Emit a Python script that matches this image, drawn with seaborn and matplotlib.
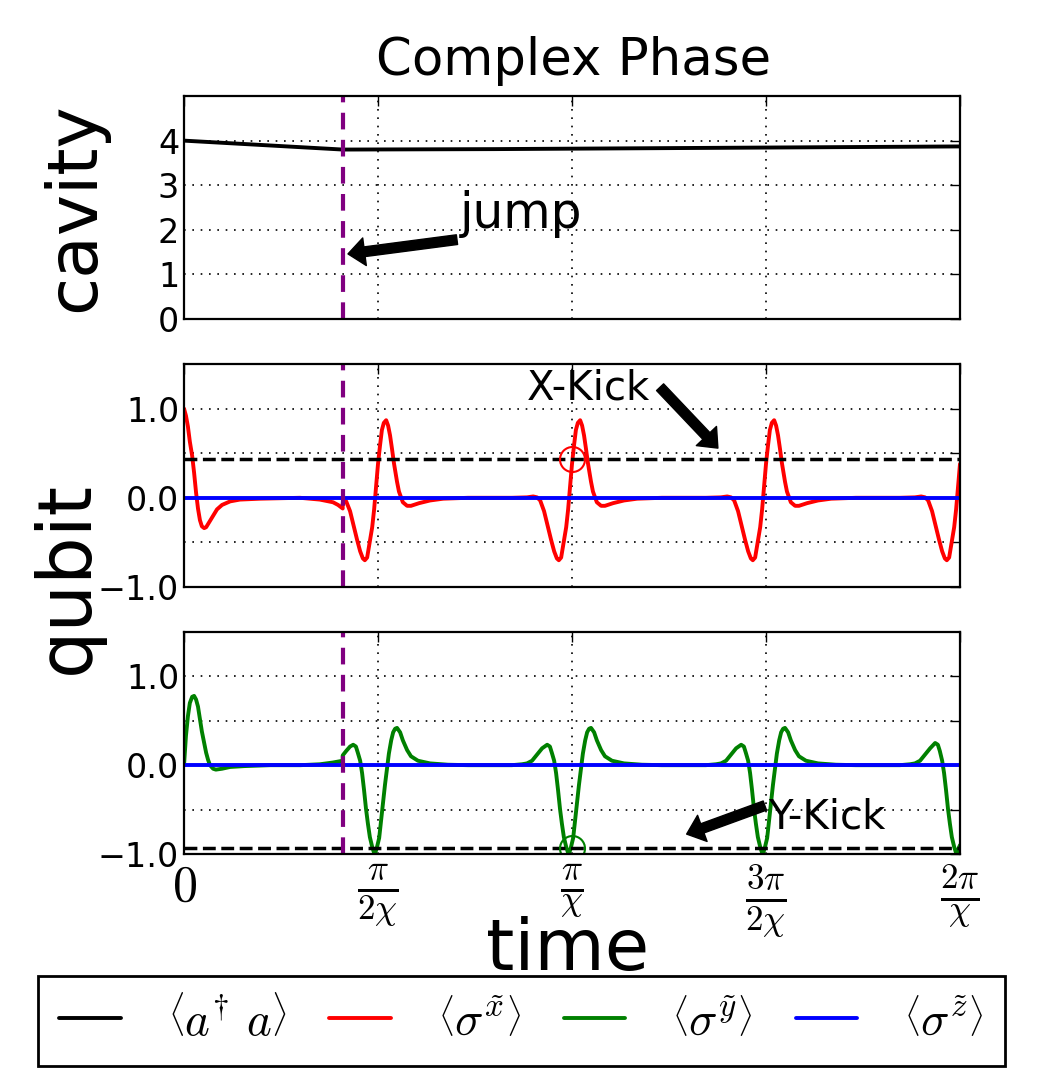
import matplotlib
matplotlib.use("Agg")
import matplotlib.pyplot as plt
from matplotlib.lines import Line2D
import seaborn as sns

# --- DATA (time in units of pi/chi, 0 .. 2) ---
t_jump = 0.409
x_kick_level = 0.43
y_kick_level = -0.93

cav_t = [0.0, 0.409, 0.8, 1.2, 1.6, 2.0]
cav_n = [4.0, 3.80, 3.81, 3.83, 3.85, 3.87]

# <sigma x>
sx_t = [0.0, 0.005, 0.010, 0.015, 0.021, 0.026, 0.031, 0.036, 0.041, 0.046, 0.052, 0.057, 0.064, 0.075, 0.085, 0.098, 0.119, 0.144, 0.196, 0.299,
        0.350, 0.384, 0.397, 0.409,
        0.409, 0.418, 0.428, 0.438, 0.446, 0.454, 0.461, 0.466, 0.472, 0.479, 0.485, 0.490, 0.495, 0.500, 0.505, 0.510, 0.515, 0.521, 0.526, 0.531, 0.536, 0.541, 0.549, 0.554, 0.564, 0.575, 0.585, 0.606, 0.634, 0.668, 0.732,
        0.845, 0.884, 0.900, 0.910, 0.918, 0.928, 0.938, 0.946, 0.954, 0.961, 0.966, 0.972, 0.979, 0.985, 0.990, 0.995, 1.000, 1.005, 1.010, 1.015, 1.021, 1.026, 1.031, 1.036, 1.041, 1.049, 1.054, 1.064, 1.075, 1.085, 1.106, 1.134, 1.168, 1.232,
        1.345, 1.384, 1.400, 1.410, 1.418, 1.428, 1.438, 1.446, 1.454, 1.461, 1.466, 1.472, 1.479, 1.485, 1.490, 1.495, 1.500, 1.505, 1.510, 1.515, 1.521, 1.526, 1.531, 1.536, 1.541, 1.549, 1.554, 1.564, 1.575, 1.585, 1.606, 1.634, 1.668, 1.732,
        1.845, 1.884, 1.900, 1.910, 1.918, 1.928, 1.938, 1.946, 1.954, 1.961, 1.966, 1.972, 1.979, 1.985, 1.990, 1.995, 2.000]
sx_v = [1.0, 0.92, 0.80, 0.63, 0.47, 0.28, 0.06, -0.12, -0.25, -0.32, -0.34, -0.33, -0.28, -0.20, -0.13, -0.08, -0.04, -0.02, -0.01, 0.0,
        -0.02, -0.05, -0.08, -0.12,
        -0.06, -0.04, -0.15, -0.33, -0.47, -0.60, -0.68, -0.70, -0.67, -0.49, -0.33, -0.13, 0.12, 0.38, 0.58, 0.76, 0.84, 0.87, 0.81, 0.70, 0.55, 0.39, 0.18, 0.07, -0.05, -0.09, -0.09, -0.06, -0.03, -0.01, 0.0,
        0.0, 0.005, 0.015, 0.005, -0.03, -0.15, -0.33, -0.47, -0.60, -0.68, -0.70, -0.67, -0.49, -0.33, -0.13, 0.12, 0.38, 0.58, 0.76, 0.84, 0.87, 0.81, 0.70, 0.55, 0.39, 0.18, 0.07, -0.05, -0.09, -0.09, -0.06, -0.03, -0.01, 0.0,
        0.0, 0.005, 0.015, 0.005, -0.03, -0.15, -0.33, -0.47, -0.60, -0.68, -0.70, -0.67, -0.49, -0.33, -0.13, 0.12, 0.38, 0.58, 0.76, 0.84, 0.87, 0.81, 0.70, 0.55, 0.39, 0.18, 0.07, -0.05, -0.09, -0.09, -0.06, -0.03, -0.01, 0.0,
        0.0, 0.005, 0.015, 0.005, -0.03, -0.15, -0.33, -0.47, -0.60, -0.68, -0.70, -0.67, -0.49, -0.33, -0.13, 0.12, 0.38]

# <sigma y>
sy_t = [0.0, 0.005, 0.010, 0.015, 0.021, 0.026, 0.031, 0.036, 0.041, 0.046, 0.052, 0.057, 0.062, 0.067, 0.075, 0.082, 0.098, 0.119, 0.157, 0.222,
        0.300, 0.350, 0.384, 0.409,
        0.409, 0.418, 0.428, 0.436, 0.443, 0.448, 0.454, 0.459, 0.464, 0.469, 0.474, 0.479, 0.485, 0.490, 0.492, 0.497, 0.503, 0.508, 0.513, 0.518, 0.523, 0.528, 0.534, 0.539, 0.544, 0.549, 0.557, 0.564, 0.575, 0.585, 0.603, 0.634, 0.680, 0.732,
        0.845, 0.871, 0.884, 0.897, 0.910, 0.923, 0.936, 0.943, 0.948, 0.954, 0.959, 0.964, 0.969, 0.974, 0.979, 0.985, 0.990, 0.992, 0.997, 1.003, 1.008, 1.013, 1.018, 1.023, 1.028, 1.034, 1.039, 1.044, 1.049, 1.057, 1.064, 1.075, 1.085, 1.103, 1.134, 1.180, 1.232,
        1.345, 1.371, 1.384, 1.397, 1.410, 1.423, 1.436, 1.443, 1.448, 1.454, 1.459, 1.464, 1.469, 1.474, 1.479, 1.485, 1.490, 1.492, 1.497, 1.503, 1.508, 1.513, 1.518, 1.523, 1.528, 1.534, 1.539, 1.544, 1.549, 1.557, 1.564, 1.575, 1.585, 1.603, 1.634, 1.680, 1.732,
        1.845, 1.871, 1.884, 1.897, 1.910, 1.923, 1.936, 1.943, 1.948, 1.954, 1.959, 1.964, 1.969, 1.974, 1.979, 1.985, 1.990, 1.992, 1.997, 2.000]
sy_v = [0.0, 0.33, 0.55, 0.70, 0.77, 0.78, 0.74, 0.66, 0.52, 0.38, 0.25, 0.14, 0.06, 0.0, -0.04, -0.05, -0.04, -0.02, -0.01, 0.0,
        0.0, 0.01, 0.03, 0.05,
        0.11, 0.16, 0.21, 0.23, 0.21, 0.14, 0.05, -0.09, -0.28, -0.49, -0.66, -0.81, -0.92, -0.99, -1.0, -0.93, -0.82, -0.62, -0.43, -0.22, -0.04, 0.13, 0.28, 0.37, 0.41, 0.42, 0.37, 0.28, 0.17, 0.10, 0.05, 0.02, 0.005, 0.0,
        0.0, 0.01, 0.02, 0.05, 0.12, 0.19, 0.23, 0.21, 0.14, 0.05, -0.09, -0.28, -0.49, -0.66, -0.81, -0.92, -0.99, -1.0, -0.93, -0.82, -0.62, -0.43, -0.22, -0.04, 0.13, 0.28, 0.37, 0.41, 0.42, 0.37, 0.28, 0.17, 0.10, 0.05, 0.02, 0.005, 0.0,
        0.0, 0.01, 0.02, 0.05, 0.12, 0.19, 0.23, 0.21, 0.14, 0.05, -0.09, -0.28, -0.49, -0.66, -0.81, -0.92, -0.99, -1.0, -0.93, -0.82, -0.62, -0.43, -0.22, -0.04, 0.13, 0.28, 0.37, 0.41, 0.42, 0.37, 0.28, 0.17, 0.10, 0.05, 0.02, 0.005, 0.0,
        0.0, 0.01, 0.02, 0.05, 0.12, 0.19, 0.25, 0.23, 0.16, 0.05, -0.09, -0.28, -0.49, -0.66, -0.81, -0.92, -0.99, -1.0, -0.93, -0.90]

sz_t = [0.0, 2.0]
sz_v = [0.0, 0.0]

x_ticks = [0, 0.5, 1.0, 1.5, 2.0]
x_ticklabels = [r'$0$', r'$\frac{\pi}{2\chi}$', r'$\frac{\pi}{\chi}$', r'$\frac{3\pi}{2\chi}$', r'$\frac{2\pi}{\chi}$']
q_ticks = [-1.0, -0.5, 0.0, 0.5, 1.0]
q_ticklabels = ['\u22121.0', '', '0.0', '', '1.0']
cav_ticks = [0, 1, 2, 3, 4]

legend_labels = [r'$\left\langle a^{\dagger}\ a\right\rangle$', r'$\left\langle\sigma^{\tilde{x}}\right\rangle$',
                 r'$\left\langle\sigma^{\tilde{y}}\right\rangle$', r'$\left\langle\sigma^{\tilde{z}}\right\rangle$']
colors = ['black', 'red', 'green', 'blue']

# --- STYLE ---
sns.set_style("white", {"axes.edgecolor": "black"})
plt.rcParams['font.family'] = ['DejaVu Sans']
plt.rcParams['mathtext.fontset'] = 'cm'
plt.rcParams['axes.linewidth'] = 1.6
for key in ['text.color', 'axes.labelcolor', 'xtick.color', 'ytick.color']:
    plt.rcParams[key] = 'black'

fig = plt.figure(figsize=(10.42, 10.84), dpi=100)
ax_cav = fig.add_axes([0.1766, 0.7057, 0.7447, 0.2057])
ax_sx = fig.add_axes([0.1766, 0.4585, 0.7447, 0.2057])
ax_sy = fig.add_axes([0.1766, 0.2122, 0.7447, 0.2048])

LW = 2.8
sns.lineplot(x=cav_t, y=cav_n, ax=ax_cav, color='black', lw=LW, estimator=None, sort=False, legend=False)
sns.lineplot(x=sx_t, y=sx_v, ax=ax_sx, color='red', lw=LW, estimator=None, sort=False, legend=False)
sns.lineplot(x=sz_t, y=sz_v, ax=ax_sx, color='blue', lw=LW, estimator=None, sort=False, legend=False)
sns.lineplot(x=sy_t, y=sy_v, ax=ax_sy, color='green', lw=LW, estimator=None, sort=False, legend=False)
sns.lineplot(x=sz_t, y=sz_v, ax=ax_sy, color='blue', lw=LW, estimator=None, sort=False, legend=False)

ax_sx.axhline(x_kick_level, color='black', ls='--', lw=2.5)
ax_sy.axhline(y_kick_level, color='black', ls='--', lw=2.5)
ax_sx.plot([1.0], [x_kick_level], 'o', mfc='none', mec='red', ms=18, mew=1.5)
ax_sy.plot([1.0], [y_kick_level], 'o', mfc='none', mec='green', ms=18, mew=1.5)

for ax in (ax_cav, ax_sx, ax_sy):
    ax.axvline(t_jump, color='purple', ls=(0, (4, 2.5)), lw=3)
    ax.set_xlim(0, 2)
    ax.set_xticks(x_ticks)
    ax.grid(True, ls=(0, (1, 4)), color='black', lw=1.2)
    ax.tick_params(direction='in', top=True, right=True, length=7, width=1, labelsize=24)
    ax.set_xlabel('')
    ax.set_ylabel('')

ax_cav.set_ylim(0, 5)
ax_cav.set_yticks(cav_ticks)
for ax in (ax_sx, ax_sy):
    ax.set_ylim(-1.0, 1.5)
    ax.set_yticks(q_ticks)
    ax.set_yticklabels(q_ticklabels)

ax_cav.set_xticklabels([])
ax_sx.set_xticklabels([])
ax_sy.set_xticklabels(x_ticklabels, fontsize=36)
ax_sy.tick_params(axis='x', pad=6)

# annotations
arrow = dict(facecolor='black', edgecolor='black', width=7, headwidth=20, headlength=12, shrink=0)
ax_cav.annotate('', xy=(0.4226, 1.46), xytext=(0.7035, 1.78), arrowprops=arrow)
ax_cav.text(0.711, 2.05, 'jump', fontsize=35, va='baseline')
ax_sx.annotate('', xy=(1.376, 0.557), xytext=(1.227, 1.24), arrowprops=arrow)
ax_sx.text(0.884, 1.10, 'X-Kick', fontsize=29, va='baseline')
ax_sy.annotate('', xy=(1.2955, -0.776), xytext=(1.497, -0.455), arrowprops=arrow)
ax_sy.text(1.505, -0.716, 'Y-Kick', fontsize=29, va='baseline')

# titles and big labels
fig.text(574 / 1042, 1 - 75 / 1084, 'Complex Phase', fontsize=37, ha='center', va='baseline')
fig.text(75 / 1042, 1 - 207 / 1084, 'cavity', fontsize=50, rotation=90, ha='center', va='center')
fig.text(67 / 1042, 1 - 577 / 1084, 'qubit', fontsize=54, rotation=90, ha='center', va='center')
fig.text(568 / 1042, 1 - 970 / 1084, 'time', fontsize=52, ha='center', va='baseline')

handles = [Line2D([], [], color=c, lw=LW) for c in colors]
leg = fig.legend(handles, legend_labels, loc='center', ncol=4, mode='expand',
                 bbox_to_anchor=(38 / 1042, 1 - 1065 / 1084, 967 / 1042, 88 / 1084),
                 fontsize=34, frameon=True, fancybox=False, edgecolor='black', framealpha=1,
                 handlelength=1.3, handletextpad=1.0, borderpad=0.45, borderaxespad=0)
leg.get_frame().set_linewidth(2)

fig.savefig('out.png', dpi=100)
